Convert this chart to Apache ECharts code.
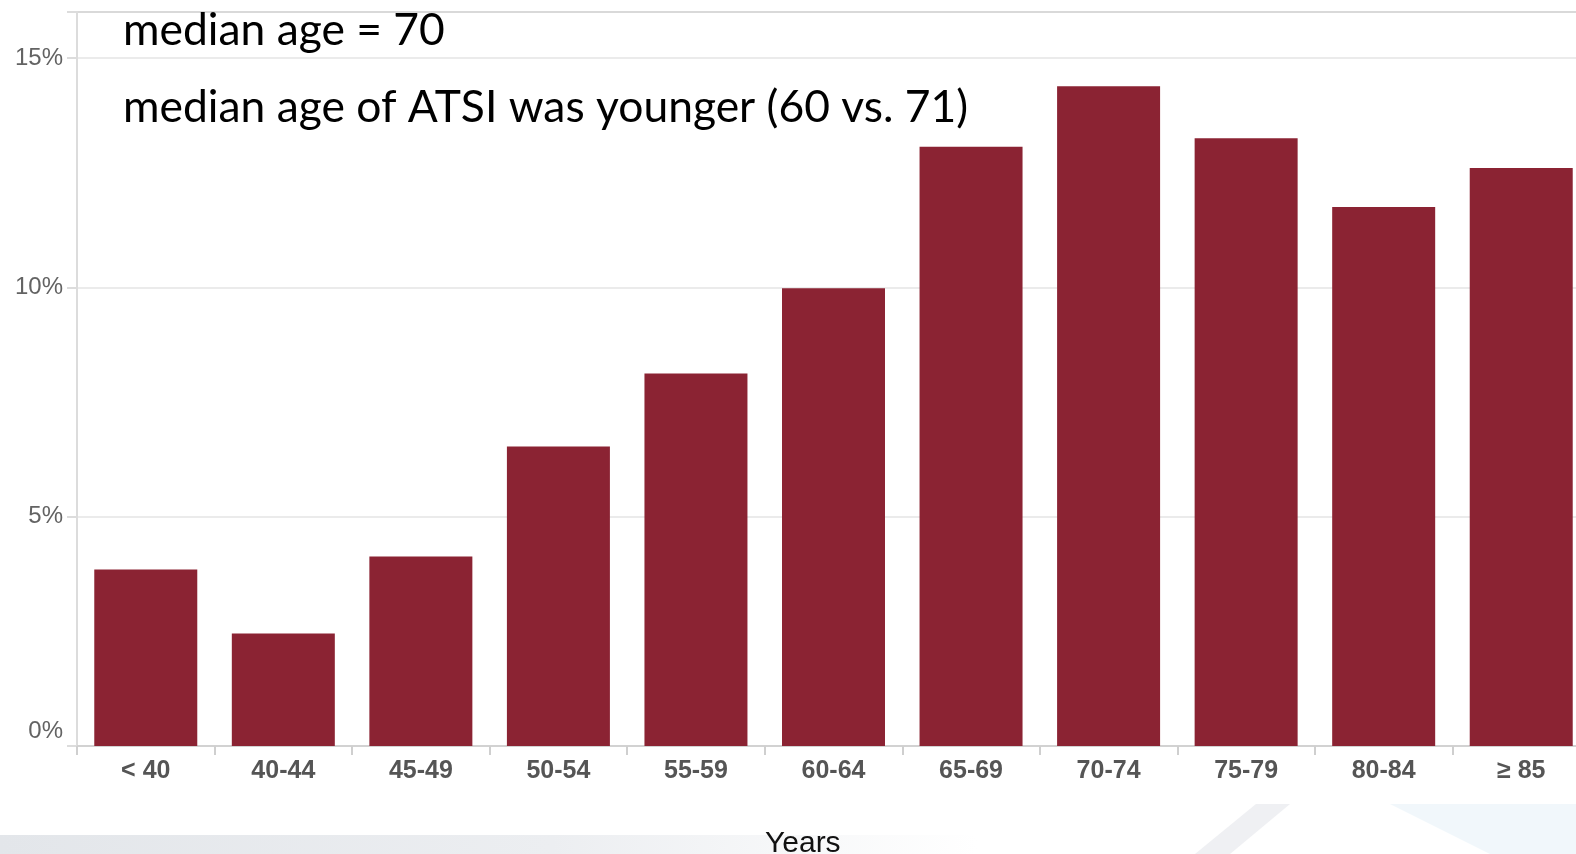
<!DOCTYPE html>
<html>
<head>
<meta charset="utf-8">
<title>Age distribution</title>
<script src="https://cdn.jsdelivr.net/npm/echarts@6/dist/echarts.min.js"></script>
<style>
  html, body { margin: 0; padding: 0; background: #ffffff; }
  #chart { width: 1576px; height: 854px; }
</style>
</head>
<body>
<div id="chart"></div>
<script>
// Age groups and share of patients (%) in each group
const categories = ['< 40', '40-44', '45-49', '50-54', '55-59', '60-64', '65-69', '70-74', '75-79', '80-84', '\u2265 85'];
const shares = [3.85, 2.45, 4.13, 6.53, 8.12, 9.98, 13.06, 14.38, 13.25, 11.75, 12.6];

// Notes printed over the plot and the axis title
const noteLines = ['median age = 70', 'median age of ATSI was younger (60 vs. 71)'];
const axisTitle = 'Years';

const chart = echarts.init(document.getElementById('chart'), null, { renderer: 'canvas' });

const option = {
  animation: false,
  backgroundColor: '#ffffff',
  title: {
    text: axisTitle,
    left: 765,
    top: 829,
    padding: 0,
    textStyle: { fontFamily: 'Liberation Sans, Arial, sans-serif', fontSize: 30, fontWeight: 'normal', color: '#111111' }
  },
  // the plot runs a little past the right edge of the canvas
  grid: {
    left: 77, top: 12, width: 1513, height: 734,
    containLabel: false,
    outerBoundsMode: 'none'
  },
  xAxis: {
    type: 'category',
    data: categories,
    boundaryGap: true,
    axisLine: { show: true, lineStyle: { color: '#d2d2d2', width: 2 } },
    axisTick: { show: true, length: 9, lineStyle: { color: '#cfcfcf', width: 2 } },
    axisLabel: {
      margin: 13,
      fontFamily: 'Liberation Sans, Arial, sans-serif',
      fontSize: 25,
      fontWeight: 'bold',
      color: '#555555',
      interval: 0
    },
    splitLine: { show: false }
  },
  yAxis: {
    type: 'value',
    min: 0,
    max: 16,
    interval: 5,
    axisLine: { show: true, lineStyle: { color: '#dcdcdc', width: 2 } },
    axisTick: { show: true, length: 10, lineStyle: { color: '#dcdcdc', width: 2 } },
    axisLabel: {
      margin: 14,
      fontFamily: 'Liberation Sans, Arial, sans-serif',
      fontSize: 24,
      color: '#636363',
      formatter: function (v) {
        if (v === 0) return '{z|0%}';
        if (v % 5 !== 0) return '';
        return v + '%';
      },
      rich: {
        z: { fontFamily: 'Liberation Sans, Arial, sans-serif', fontSize: 24, color: '#636363', padding: [0, 0, 30, 0] }
      }
    },
    splitLine: {
      show: true,
      lineStyle: { color: ['#ebebeb', '#ebebeb', '#ebebeb', '#ebebeb', '#d9d9d9'], width: 2 }
    }
  },
  series: [{
    type: 'bar',
    data: shares,
    barWidth: 103,
    itemStyle: { color: '#8b2333' },
    z: 2
  }],
  graphic: [
    // soft grey band along the bottom edge
    {
      type: 'rect', z: -10, silent: true,
      shape: { x: 0, y: 835, width: 1576, height: 19 },
      style: {
        fill: new echarts.graphic.LinearGradient(0, 0, 1, 0, [
          { offset: 0, color: '#e3e6ea' },
          { offset: 0.35, color: '#eceef1' },
          { offset: 0.62, color: '#ffffff' },
          { offset: 1, color: '#ffffff' }
        ])
      }
    },
    // faint diagonal stripe
    {
      type: 'polygon', z: -10, silent: true,
      shape: { points: [[1195, 854], [1230, 854], [1290, 804], [1256, 804]] },
      style: { fill: '#eff0f3' }
    },
    // pale blue wedge on the right
    {
      type: 'polygon', z: -10, silent: true,
      shape: { points: [[1390, 804], [1576, 804], [1576, 854], [1490, 854]] },
      style: { fill: '#f1f7fb' }
    },
    {
      type: 'text', z: 10, silent: true,
      style: {
        text: noteLines[0], x: 123, y: 31,
        font: '44.4px Lato, "Open Sans", sans-serif',
        fill: '#000000', textVerticalAlign: 'middle'
      }
    },
    {
      type: 'text', z: 10, silent: true,
      style: {
        text: noteLines[1], x: 123, y: 108,
        font: '44.4px Lato, "Open Sans", sans-serif',
        fill: '#000000', textVerticalAlign: 'middle'
      }
    }
  ]
};

chart.setOption(option);
</script>
</body>
</html>
